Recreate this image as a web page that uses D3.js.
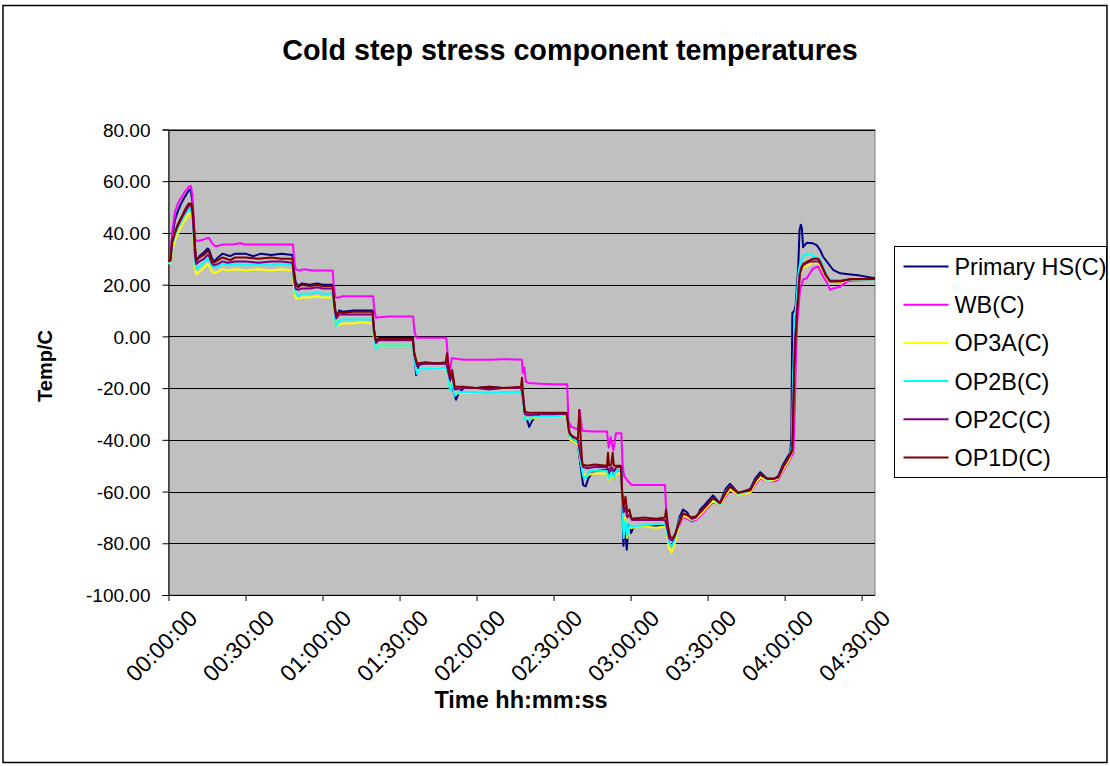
<!DOCTYPE html>
<html>
<head>
<meta charset="utf-8">
<script src="https://cdn.jsdelivr.net/npm/d3@7/dist/d3.min.js"></script>
<style>
  body { margin: 0; background: #fff; }
  text { font-family: "Liberation Sans", Arial, sans-serif; fill: #000; }
</style>
</head>
<body>
<div id="chart"></div>
<script>
// time in minutes from start, temperature in C
const primaryHS = [[0,29],[0.8,30],[1.4,38],[2.5,45],[3.5,48],[4.5,50.5],[5.5,52.5],[6.4,54],[7.3,55.5],[8.0,56.5],[8.6,57],[9.3,52],[9.8,44],[10.3,34],[10.8,29],[12,31],[13.8,32.5],[15.2,34],[15.8,33.5],[17,30],[17.7,29],[19.3,30.5],[21,32],[22.5,31.5],[24,31],[26,32],[30,32],[33,31],[36,32],[40,31.5],[44,32],[48.3,31.5],[48.8,26],[49.5,21],[50.5,19.5],[52,20.5],[55,20],[58,20.5],[60,20],[64,20],[64.5,14],[65.3,7],[66.5,10],[68,9.5],[72,10],[79.5,10],[80,3],[80.8,-2.5],[82,-0.5],[88,-0.5],[95.2,-0.5],[95.7,-7],[96.5,-15],[97.5,-11],[100,-10.5],[105,-10.5],[108.3,-10.5],[109,-14],[109.7,-18],[111,-21],[112,-24.5],[113,-22],[115,-20],[120,-20],[125,-19.5],[130,-20],[137.5,-20],[138.1,-24],[139,-30],[140.5,-35],[142,-32],[144,-30.5],[150,-30.5],[155.3,-30.5],[155.8,-35],[156.5,-40],[158,-41],[159.5,-42],[160.5,-50],[161.5,-57.5],[162.5,-58],[163.5,-55],[165,-52.5],[167,-52],[170.8,-51.5],[171.5,-53.5],[172.5,-52],[173.5,-55],[174.5,-52],[176.4,-52],[176.8,-65],[177.2,-81],[177.7,-72],[178.5,-82.5],[179.2,-73],[180.2,-76],[181,-74],[183,-73.5],[188,-73.5],[193.4,-73],[194,-75],[195,-80],[196.3,-81],[197.3,-77.5],[199,-70],[200.4,-67],[202,-68],[203.8,-71.5],[205.5,-70.5],[207.1,-67],[209,-65],[212.1,-61.5],[214.8,-64.5],[217,-59],[218.7,-57],[221.9,-60.5],[224,-60],[226.6,-59],[228.5,-55],[230.5,-52.5],[233.2,-55],[236,-55],[237.5,-54],[239.4,-49.5],[242.1,-45],[242.6,-40],[243.0,9],[243.8,10],[244.3,12],[245.3,27],[245.8,41],[246.3,43.2],[246.7,42],[247.2,34.5],[248.6,36.2],[251,36],[252.5,35.3],[253.8,33.4],[255,30.8],[258.9,25.7],[261.6,24.4],[265,24],[269.4,23.5],[275.2,22.5]];

const wb = [[0,29],[0.8,30],[1.4,40],[2.5,48],[3.5,51],[4.5,53],[5.5,54.5],[6.4,56],[7.3,57],[8.0,58],[8.7,58.2],[9.3,55],[9.8,45],[10.3,38],[10.8,37],[12,37],[13.8,37.5],[15.2,38],[15.8,38],[17,36],[18,35],[19.3,35],[21,35.5],[25,35.5],[28,36],[30,35.5],[35,35.5],[40,35.5],[44,35.5],[48.5,35.5],[48.9,30],[49.5,26],[51,25.5],[53,26],[56,25.5],[64,25.5],[64.3,20],[65,15],[66.5,15],[67.5,15.5],[72,15.5],[79.7,15.5],[80.2,10],[80.8,7.2],[83,7.5],[86,7.7],[95.3,7.7],[95.8,2],[96.5,-0.5],[100,-0.5],[108.2,-0.5],[108.6,-5],[109.1,-12],[109.6,-14],[110.3,-8.5],[111,-8.5],[115,-9],[120,-9],[125,-9],[130,-8.8],[137.7,-9],[138,-14.3],[138.6,-12],[139.2,-17.5],[140.2,-18],[145,-18.3],[150,-18.5],[155.3,-18.5],[155.8,-33],[157,-35],[159.5,-36],[160.2,-28.5],[160.7,-33],[161.2,-36.5],[165,-36.8],[170.8,-36.8],[171.5,-43],[172.2,-39],[173.3,-44],[174.3,-37.5],[176.4,-37.5],[176.9,-50],[177.5,-54],[179,-56],[180.5,-57.5],[185,-57.5],[190,-57.5],[193.4,-57.5],[193.8,-66],[194.5,-73],[195.4,-78.5],[196.5,-79],[197.5,-77],[199,-73],[200.4,-70],[202,-70.5],[203.8,-71.5],[205.5,-71],[207.1,-69.5],[209,-67.5],[212.1,-64],[214.8,-65.5],[217,-62],[218.7,-59.5],[221.9,-61.5],[224,-61],[226.6,-60.5],[228.5,-57.5],[230.5,-55],[233.2,-56],[236,-56],[237.5,-55.5],[239.4,-52],[242.1,-47.5],[243.4,-45],[243.9,-30],[244.5,-5],[244.9,5],[246,18],[247.2,22],[248.6,22.5],[251.1,26.3],[253.1,27],[254.5,24],[256.6,20.5],[257.7,18],[258.9,18.5],[261.6,19.2],[264,21],[265.5,21.5],[275.2,22]];

const op3a = [[0,28],[0.8,28.5],[1.4,33],[2.5,37],[3.5,39.5],[4.5,41.5],[5.5,43.5],[6.4,45],[7.3,46.5],[8.0,47.5],[8.7,47.5],[9.3,44],[9.8,36],[10.3,27],[10.8,24],[12,25],[13.8,26.5],[15.2,28],[15.8,27.5],[17,25],[17.7,24.5],[19.3,25],[21,26],[23,25.5],[26,26],[30,25.5],[35,26],[40,25.5],[44,26],[48.3,25.5],[48.8,20],[49.5,15],[50.5,14.5],[52,15],[55,15],[58,15.5],[60,15],[64,15],[64.5,9],[65.3,4],[66.5,4.5],[68,5],[72,5],[75,5.5],[79.5,5],[80,-1],[80.8,-4.5],[82,-3.5],[88,-3.5],[95.2,-3.5],[95.7,-8],[96.8,-13.5],[98,-12.5],[105,-12.5],[108.3,-12.5],[109,-16],[109.7,-20],[110.5,-17],[111.5,-22],[115,-22],[120,-21.5],[125,-22],[130,-21.5],[137.5,-21.5],[138.1,-25],[138.8,-31],[140.5,-32],[145,-31],[150,-31],[155.3,-31],[155.8,-36],[156.5,-40],[159.5,-42],[160.5,-48],[161.5,-53],[163,-54],[165,-53],[170.8,-53],[171.5,-55.5],[172.5,-53.5],[173.5,-55],[174.5,-53],[176.4,-53],[176.8,-62],[177.3,-75],[178,-70],[178.7,-78],[179.5,-74],[180.6,-74],[185,-73.5],[190,-74],[193.4,-73.5],[194,-76],[195,-82],[196,-83.5],[197.3,-80],[199,-72],[200.4,-69.5],[202,-70],[203.8,-71],[205.5,-70.5],[207.1,-69],[209,-67],[212.1,-63.5],[214.8,-65.5],[217,-61.5],[218.7,-59],[221.9,-61.5],[224,-61],[226.6,-60.5],[228.5,-57],[230.5,-54.5],[233.2,-56],[236,-55.5],[237.5,-55],[239.4,-51.5],[242.1,-47],[243,-44],[243.5,-25],[244,-5],[244.7,12],[245.5,22],[246.3,27],[247.2,26.5],[249,27.5],[251,28.5],[253.1,28.5],[254,27],[256,23],[257.7,21.5],[261.6,21],[265.5,21.8],[275.2,22]];

const op2b = [[0,28.5],[0.8,29],[1.4,35],[2.5,39],[3.5,41.5],[4.5,43.5],[5.5,45.5],[6.4,47],[7.3,48.5],[8.0,49.5],[8.7,49.5],[9.3,46],[9.8,38],[10.3,29],[10.8,26],[12,27],[13.8,28.5],[15.2,30],[15.8,29.5],[17,27],[17.7,26.5],[19.3,27],[21,28],[23,27.5],[26,28],[30,27.5],[35,28],[40,27.5],[44,28],[48.3,27.5],[48.8,22],[49.5,17],[50.5,15.5],[52,16.5],[55,16.5],[58,17],[60,16.5],[64,16.5],[64.5,10],[65.3,4],[66.5,6],[68,6.5],[72,6.5],[79.5,6.5],[80,0],[80.8,-5],[82,-3.5],[88,-3.5],[95.2,-3.5],[95.7,-9],[96.8,-14.5],[98,-12.5],[105,-12.5],[108.3,-12],[109,-16],[109.7,-21],[110.5,-18],[111.5,-23],[113,-21.5],[120,-21.5],[125,-22],[130,-21.5],[137.5,-21.5],[138.1,-26],[138.8,-32],[140.5,-32],[142,-31],[150,-31],[155.3,-30.5],[155.8,-36],[156.5,-39],[159.5,-41],[160.5,-48],[161.5,-54],[162.5,-55],[164,-52],[170.8,-52],[171.5,-55],[172.5,-52.5],[173.5,-54.5],[174.5,-52],[176.4,-52],[176.8,-65],[177.3,-78],[178,-71],[178.7,-77],[179.5,-73],[180.6,-73.5],[185,-73],[190,-72.5],[193.4,-72.5],[194,-75],[195,-80],[196.3,-81],[197.3,-78],[199,-71],[200.4,-68.5],[202,-69],[203.8,-71],[205.5,-70],[207.1,-68],[209,-66],[212.1,-62.5],[214.8,-65],[217,-60],[218.7,-58],[221.9,-61],[224,-60.5],[226.6,-59.5],[228.5,-56],[230.5,-53.5],[233.2,-55.5],[236,-55],[237.5,-54.5],[239.4,-50.5],[242.1,-46],[242.8,-42],[243.3,-15],[243.9,5],[244.7,15],[245.4,25],[246,28],[247.2,31],[248.6,32],[250,32],[251.1,31],[253.8,30],[255,27],[256.6,23],[257.7,22],[261.6,21.5],[265.5,22],[275.2,22]];

const op2c = [[0,29],[0.8,29.5],[1.4,36],[2.5,40],[3.5,42.5],[4.5,44.5],[5.5,46.5],[6.4,48],[7.3,49.5],[8.0,50.5],[8.7,51],[9.3,48],[9.8,40],[10.3,31],[10.8,28],[12,29],[13.8,30],[15.2,31.5],[15.8,31],[17,28],[17.7,27.5],[19.3,28],[21,29],[23,28.5],[26,29],[30,29],[35,28.5],[40,29],[44,29],[48.3,28.5],[48.8,23],[49.5,18.5],[50.5,18],[52,18.5],[55,18.5],[58,19],[60,18.5],[64,18.5],[64.5,12],[65.3,7],[66.5,8.5],[68,8.5],[72,8.5],[79.5,8.5],[80,2],[80.8,-2.5],[82,-1.5],[88,-1.5],[95.2,-1.5],[95.7,-7],[96.8,-11.5],[98,-10.5],[105,-10.5],[108.3,-10.5],[109,-14],[109.7,-17],[110.5,-15],[111.5,-20.5],[115,-20],[120,-20],[125,-20.5],[130,-20],[137.5,-20],[138.1,-24],[138.8,-30],[140.5,-30.5],[145,-30],[150,-30],[155.3,-30],[155.8,-35],[156.5,-38],[159.5,-40],[160.5,-46],[161.5,-50.5],[163,-51],[166,-50.5],[170.8,-50.5],[171.5,-52],[172.5,-50.5],[173.5,-52],[174.5,-50.5],[176.4,-50.5],[176.8,-62],[177.3,-68],[178,-66],[178.7,-70],[179.5,-69],[180.6,-71],[185,-71],[190,-71],[193.4,-71],[194,-73],[195,-78],[196.3,-79],[197.3,-77],[199,-71.5],[200.4,-68.5],[202,-69],[203.8,-70.5],[205.5,-70],[207.1,-68],[209,-66],[212.1,-62.5],[214.8,-64.5],[217,-60.5],[218.7,-58],[221.9,-60.5],[224,-60],[226.6,-59.5],[228.5,-56],[230.5,-53.5],[233.2,-55],[236,-55],[237.5,-54.5],[239.4,-50.5],[242.1,-46],[243,-43],[243.5,-20],[244,-2],[244.8,10],[245.8,24],[246.6,27],[248,28],[250,29],[253,29],[254,28],[256,23.5],[257.7,21.5],[261.6,21.5],[265.5,22],[275.2,22.2]];

const op1d = [[0,29],[0.8,29.5],[1.4,37],[2.5,40],[3.5,43],[4.5,45],[5.5,47],[6.4,49],[7.3,50.5],[8.0,51.5],[9.2,51],[9.8,45],[10.3,35],[10.8,29.5],[12,30.5],[13.8,31.5],[15.2,33],[15.8,32.5],[17,29],[17.7,28.5],[19.3,29.5],[21,30.5],[22.5,30],[24,29.5],[26,30.5],[30,30.5],[35,30],[40,30.5],[44,30],[48.3,30],[48.8,25],[49.5,20],[50.5,19],[52,20],[55,19.5],[58,20],[60,19.5],[64,19.5],[64.5,14],[65.3,8],[66.5,9.5],[68,9],[72,9.5],[79.5,9.5],[80,3],[80.8,-1.5],[82,-1],[88,-1],[95.2,-1],[95.7,-6],[96.8,-10.5],[100,-10],[105,-10.5],[108,-10],[108.5,-6.5],[109,-11],[109.7,-15.5],[110.5,-13],[111.5,-19.5],[115,-19.5],[120,-20],[125,-19.5],[130,-20],[137.3,-19.5],[137.7,-16],[138.1,-22],[138.6,-29],[140,-29.5],[145,-29.5],[150,-29.5],[155,-29.5],[155.5,-33],[156,-37],[157.5,-39],[159.5,-39.5],[160,-28.5],[160.6,-40],[161.2,-49.5],[163,-50],[166,-49.5],[170.8,-50],[171.2,-45],[171.6,-50],[172.5,-49.5],[173,-45],[173.5,-50],[176.2,-50],[176.6,-59],[177.3,-66],[178,-62],[178.7,-68],[179.5,-67],[180.4,-70.5],[185,-70],[190,-70.5],[193.4,-70],[193.8,-67],[194.3,-72],[195.4,-77.5],[196.5,-78],[197.5,-76],[199,-72],[200.4,-68.5],[202,-69],[203.8,-70],[205.5,-69.5],[207.1,-68],[209,-66],[212.1,-62.5],[214.8,-64.5],[217,-60.5],[218.7,-58],[221.9,-60.5],[224,-60],[226.6,-59.5],[228.5,-56],[230.5,-53.5],[233.2,-55],[236,-55],[237.5,-54.5],[239.4,-50.5],[242.1,-46],[243,-44],[243.4,-30],[243.8,-12],[244.7,7.5],[246,24.5],[247.2,28],[249,29],[251,30],[253.1,30],[253.8,29],[256,24],[257.7,21.2],[261.6,21.2],[265.5,22.2],[275.2,22.2]];

const seriesNames = ["Primary HS(C)", "WB(C)", "OP3A(C)", "OP2B(C)", "OP2C(C)", "OP1D(C)"];
const seriesData = [primaryHS, wb, op3a, op2b, op2c, op1d];
const seriesColors = ["#000080", "#ff00ff", "#ffff00", "#00ffff", "#800080", "#800000"];
const yTicks = [-100, -80, -60, -40, -20, 0, 20, 40, 60, 80];
const xTicks = [0, 30, 60, 90, 120, 150, 180, 210, 240, 270];

const width = 1110;
const height = 766;
const plot = { left: 168.5, right: 875, top: 129.5, bottom: 595 };

const svg = d3
  .select("#chart")
  .append("svg")
  .attr("width", width)
  .attr("height", height);

svg.append("rect")
  .attr("x", 3).attr("y", 5.5)
  .attr("width", 1104).attr("height", 757)
  .attr("fill", "#fff")
  .attr("stroke", "#000")
  .attr("stroke-width", 1.5);

const xScale = d3.scaleLinear().domain([0, 275.2]).range([plot.left, plot.right]);
const yScale = d3.scaleLinear().domain([-100, 80]).range([plot.bottom, plot.top]);

const pad = d3.format("02d");
function hms(m) {
  const h = Math.floor(m / 60);
  return pad(h) + ":" + pad(m % 60) + ":00";
}
const fixed2 = d3.format(".2f");

// plot area
svg.append("rect")
  .attr("x", plot.left).attr("y", plot.top)
  .attr("width", plot.right - plot.left)
  .attr("height", plot.bottom - plot.top)
  .attr("fill", "#c0c0c0")
  .attr("stroke", "#808080")
  .attr("stroke-width", 1);

// gridlines
svg.append("g")
  .selectAll("line")
  .data(yTicks.filter(d => d > -100))
  .enter()
  .append("line")
  .attr("x1", plot.left).attr("x2", plot.right)
  .attr("y1", d => Math.round(yScale(d)) + 0.5)
  .attr("y2", d => Math.round(yScale(d)) + 0.5)
  .attr("stroke", "#000")
  .attr("stroke-width", 1);

// y axis
const yAxis = d3.axisLeft(yScale)
  .tickValues(yTicks)
  .tickSize(6)
  .tickPadding(12)
  .tickFormat(d => fixed2(d).replace("\u2212", "-"));

const yAxisGroup = svg.append("g")
  .attr("transform", "translate(" + plot.left + ",0)")
  .call(yAxis);
yAxisGroup.select(".domain").attr("stroke", "#000");
yAxisGroup.selectAll("text")
  .style("font-size", "19px")
  .attr("dy", "0.35em");

// x axis
const xAxis = d3.axisBottom(xScale)
  .tickValues(xTicks)
  .tickSize(6)
  .tickFormat(hms);

const xAxisGroup = svg.append("g")
  .attr("transform", "translate(0," + plot.bottom + ")")
  .call(xAxis);
xAxisGroup.select(".domain").attr("d", "M" + plot.left + ",0.5H" + plot.right).attr("stroke", "#000");
xAxisGroup.selectAll("text")
  .style("font-size", "23px")
  .attr("text-anchor", "end")
  .attr("dy", "0.7em")
  .attr("transform", "translate(12,7) rotate(-45)");

// series
const lineGenerator = d3.line()
  .x(d => xScale(d[0]))
  .y(d => yScale(d[1]));

svg.append("g")
  .selectAll("path")
  .data(seriesData)
  .enter()
  .append("path")
  .attr("d", d => lineGenerator(d))
  .attr("fill", "none")
  .attr("stroke", (d, i) => seriesColors[i])
  .attr("stroke-width", 2)
  .attr("stroke-linejoin", "round");

// titles
svg.append("text")
  .attr("x", 570).attr("y", 60)
  .attr("text-anchor", "middle")
  .style("font-size", "28.7px")
  .style("font-weight", "bold")
  .text("Cold step stress component temperatures");

svg.append("text")
  .attr("transform", "translate(52,366) rotate(-90)")
  .attr("text-anchor", "middle")
  .style("font-size", "20px")
  .style("font-weight", "bold")
  .text("Temp/C");

svg.append("text")
  .attr("x", 521).attr("y", 708)
  .attr("text-anchor", "middle")
  .style("font-size", "23.5px")
  .style("font-weight", "bold")
  .text("Time hh:mm:ss");

// legend
const legend = svg.append("g").attr("transform", "translate(894.5,246.5)");
legend.append("rect")
  .attr("width", 212).attr("height", 231)
  .attr("fill", "#fff")
  .attr("stroke", "#000")
  .attr("stroke-width", 1);

const items = legend.selectAll("g.item")
  .data(seriesNames)
  .enter()
  .append("g")
  .attr("class", "item")
  .attr("transform", (d, i) => "translate(0," + (20 + i * 38.2) + ")");

items.append("line")
  .attr("x1", 9).attr("x2", 54)
  .attr("stroke", (d, i) => seriesColors[i])
  .attr("stroke-width", 2);

items.append("text")
  .attr("x", 60)
  .attr("dy", "0.36em")
  .style("font-size", "23.4px")
  .text(d => d);
</script>
</body>
</html>
